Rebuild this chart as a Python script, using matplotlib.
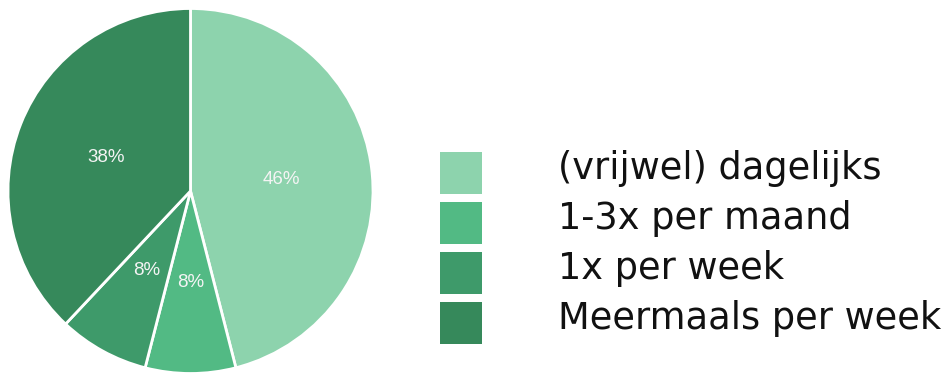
import matplotlib
matplotlib.use("Agg")
import matplotlib.pyplot as plt
from matplotlib.patches import Rectangle

# frequency of visits
labels = ["(vrijwel) dagelijks", "1-3x per maand", "1x per week", "Meermaals per week"]
shares = [46, 8, 8, 38]
colors = ["#8dd3ad", "#52ba84", "#3e9a6a", "#36895b"]

W, H = 949, 373
fig = plt.figure(figsize=(W / 100, H / 100), dpi=100)

# pie axes: centre (190.5, 191) px from top-left, radius 182.5 px
cx, cy, r = 190.5, 191, 182.5
ax = fig.add_axes([(cx - r) / W, (H - cy - r) / H, 2 * r / W, 2 * r / H])
ax.pie(shares, colors=colors, startangle=90, counterclock=False, radius=1,
       autopct="%.0f%%", pctdistance=0.5,
       wedgeprops=dict(edgecolor="white", linewidth=2.0),
       textprops=dict(color="#f4f4f4", fontsize=13.5, family="Liberation Sans"))
ax.set_xlim(-1, 1)
ax.set_ylim(-1, 1)
ax.set_aspect("equal")
ax.axis("off")

# legend drawn by hand: 42px squares, 50px pitch
x0, y0, box, step = 440, 152, 42, 50
for i, (lab, col) in enumerate(zip(labels, colors)):
    top = y0 + i * step
    fig.patches.append(Rectangle((x0 / W, (H - top - box) / H), box / W, box / H,
                                 transform=fig.transFigure, facecolor=col,
                                 edgecolor="none"))
    fig.text(558 / W, (H - (top + box / 2 + 6)) / H, lab, fontsize=26.5,
             family="DejaVu Sans", color="#111111", va="baseline", ha="left")

fig.savefig("out.png", dpi=100)
